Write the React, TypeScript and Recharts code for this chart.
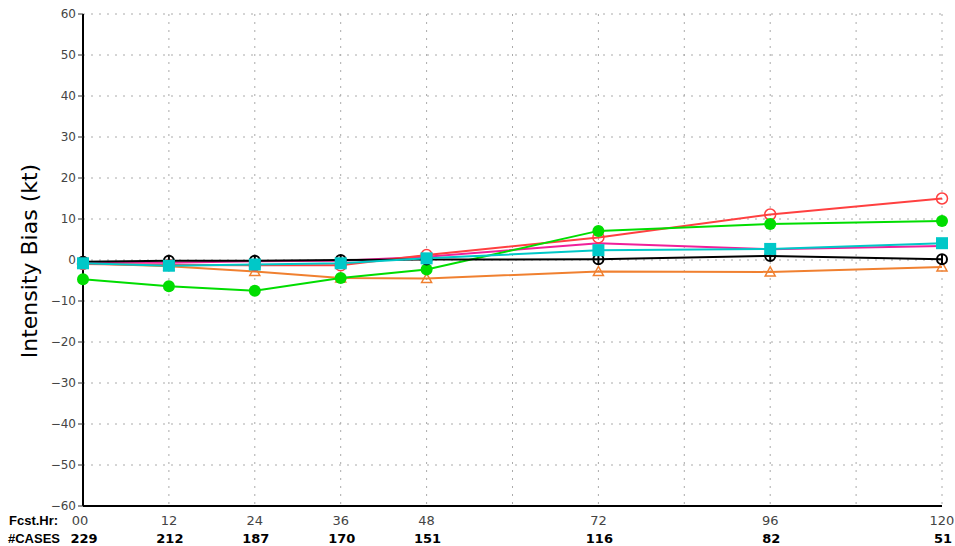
import React from "react";
import { CartesianGrid, Line, LineChart, XAxis, YAxis } from "recharts";

const hours = [0, 12, 24, 36, 48, 72, 96, 120];
const hourLabels = ["00", "12", "24", "36", "48", "72", "96", "120"];
const cases = [229, 212, 187, 170, 151, 116, 82, 51];

const blackSeries = [-0.4, -0.2, -0.2, 0.0, 0.1, 0.2, 1.0, 0.2];
const redSeries = [-1.0, -1.2, -1.3, -1.3, 1.2, 5.5, 11.1, 15.0];
const greenSeries = [-4.7, -6.4, -7.5, -4.4, -2.3, 7.1, 8.8, 9.5];
const orangeSeries = [-0.8, -1.5, -2.8, -4.4, -4.5, -2.8, -2.9, -1.7];
const magentaSeries = [-0.6, -0.7, -0.3, -0.2, 0.8, 4.1, 2.6, 3.4];
const cyanSeries = [-0.8, -1.4, -1.1, -0.8, 0.4, 2.4, 2.7, 4.1];

const gridHours = [0, 12, 24, 36, 48, 60, 72, 84, 96, 108, 120];
const yTicks = [-60, -50, -40, -30, -20, -10, 0, 10, 20, 30, 40, 50, 60];

const data = hours.map((h, i) => ({
  hour: h,
  black: blackSeries[i],
  red: redSeries[i],
  green: greenSeries[i],
  orange: orangeSeries[i],
  magenta: magentaSeries[i],
  cyan: cyanSeries[i],
}));

const FONT = "'Liberation Sans', Arial, sans-serif";
const NUM_FONT = "'DejaVu Sans', sans-serif";

const XTick = ({ x, y, payload }: any) => {
  const i = hours.indexOf(payload.value);
  if (i < 0) return <g />;
  return (
    <g>
      <text x={i === 0 ? x - 3 : x} y={y + 19} textAnchor="middle" fontFamily={NUM_FONT} fontSize={13} fill="#444">
        {hourLabels[i]}
      </text>
      <text x={x + 1} y={y + 37} textAnchor="middle" fontFamily={NUM_FONT} fontSize={13} fontWeight="bold" fill="#000">
        {cases[i]}
      </text>
      {i === 0 && (
        <>
          <text x={9} y={y + 19} fontFamily={FONT} fontSize={13} fontWeight="bold" fill="#000">
            Fcst.Hr:
          </text>
          <text x={8} y={y + 37} fontFamily={FONT} fontSize={13} fontWeight="bold" fill="#000">
            #CASES
          </text>
        </>
      )}
    </g>
  );
};

const YLabel = () => (
  <text
    x={0}
    y={0}
    transform="translate(37,261) rotate(-90)"
    textAnchor="middle"
    fontFamily="'DejaVu Sans', sans-serif"
    fontSize={22}
    fill="#000"
  >
    Intensity Bias (kt)
  </text>
);

const OpenCircle = ({ cx, cy, color }: any) => (
  <circle cx={cx} cy={cy} r={5.5} fill="none" stroke={color} strokeWidth={1.5} />
);

const CrossCircle = ({ cx, cy }: any) => (
  <g>
    <circle cx={cx} cy={cy} r={5} fill="none" stroke="#000" strokeWidth={2} />
    <line x1={cx} y1={cy - 5} x2={cx} y2={cy + 5} stroke="#000" strokeWidth={2} />
  </g>
);

const FilledDot = ({ cx, cy }: any) => <circle cx={cx} cy={cy} r={6} fill="#00dd00" />;

const Triangle = ({ cx, cy }: any) => (
  <path
    d={`M${cx},${cy - 5} L${cx + 5},${cy + 4} L${cx - 5},${cy + 4} Z`}
    fill="none"
    stroke="#f08030"
    strokeWidth={1.5}
  />
);

const Square = ({ cx, cy }: any) => (
  <rect x={cx - 6} y={cy - 6} width={12} height={12} fill="#00c8c8" />
);

const App = () => {
  return (
    <div style={{ position: "absolute", left: 0, top: 0, background: "#fff" }}>
      <LineChart
        width={955}
        height={546}
        data={data}
        margin={{ top: 14, right: 13, bottom: 0, left: 0 }}
      >
        <CartesianGrid stroke="#aaa" strokeDasharray="2 6" />
        <XAxis
          dataKey="hour"
          type="number"
          domain={[0, 120]}
          ticks={gridHours}
          height={40}
          tickSize={0}
          tickMargin={0}
          tick={<XTick />}
          axisLine={{ stroke: "#000", strokeWidth: 2 }}
          interval={0}
        />
        <XAxis
          xAxisId="top"
          orientation="top"
          type="number"
          domain={[0, 120]}
          height={0}
          tick={false}
          tickLine={false}
          axisLine={{ stroke: "#000", strokeWidth: 2 }}
        />
        <YAxis
          type="number"
          domain={[-60, 60]}
          ticks={yTicks}
          width={83}
          tickSize={5}
          interval={0}
          tickLine={{ stroke: "#333" }}
          axisLine={{ stroke: "#000", strokeWidth: 2 }}
          tick={{ fill: "#444", fontSize: 12, fontFamily: NUM_FONT }}
          tickFormatter={(v: number) => String(v).replace("-", "\u2212")}
          label={<YLabel />}
        />
        <YAxis
          yAxisId="right"
          orientation="right"
          type="number"
          domain={[-60, 60]}
          width={0}
          tick={false}
          tickLine={false}
          axisLine={{ stroke: "#000", strokeWidth: 2 }}
        />
        <Line
          dataKey="orange"
          stroke="#f08030"
          strokeWidth={2}
          isAnimationActive={false}
          dot={(p: any) => <Triangle key={`o${p.index}`} {...p} />}
        />
        <Line
          dataKey="magenta"
          stroke="#f0209a"
          strokeWidth={2}
          isAnimationActive={false}
          dot={false}
        />
        <Line
          dataKey="red"
          stroke="#ff4040"
          strokeWidth={2}
          isAnimationActive={false}
          dot={(p: any) => <OpenCircle key={`r${p.index}`} {...p} color="#ff4040" />}
        />
        <Line
          dataKey="green"
          stroke="#00dd00"
          strokeWidth={2}
          isAnimationActive={false}
          dot={(p: any) => <FilledDot key={`g${p.index}`} {...p} />}
        />
        <Line
          dataKey="black"
          stroke="#000"
          strokeWidth={2}
          isAnimationActive={false}
          dot={(p: any) => <CrossCircle key={`b${p.index}`} {...p} />}
        />
        <Line
          dataKey="cyan"
          stroke="#00c8c8"
          strokeWidth={2}
          isAnimationActive={false}
          dot={(p: any) => <Square key={`c${p.index}`} {...p} />}
        />
      </LineChart>
    </div>
  );
};

export default App;
